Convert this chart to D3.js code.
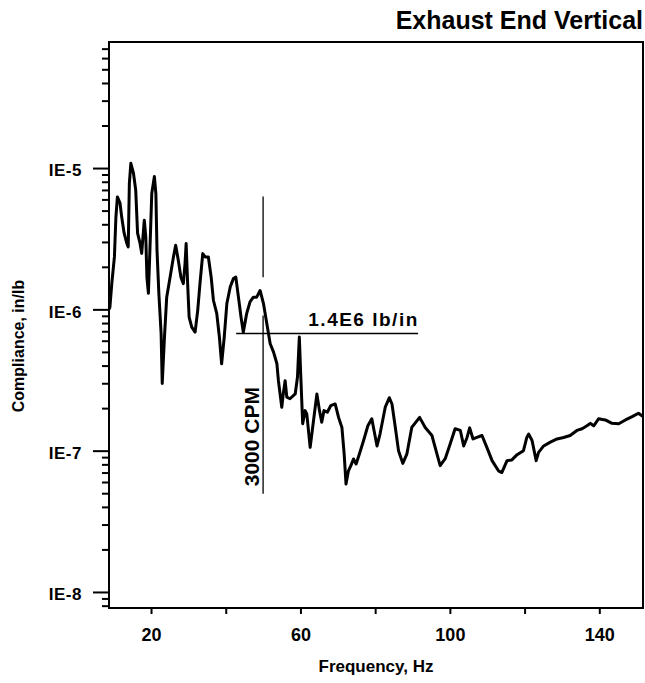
<!DOCTYPE html>
<html>
<head>
<meta charset="utf-8">
<script src="https://cdn.jsdelivr.net/npm/d3@7"></script>
<style>
    body { margin: 0; background: #fff; }
    text { font-family: "Liberation Sans", Arial, Helvetica, sans-serif; font-weight: bold; fill: #000; }
</style>
</head>
<body>
<div id="chart"></div>
<script>

// compliance spectrum: [frequency Hz, compliance in/lb]
var spectrum = [
    [8.8,1.0e-6],[9.0,1.04e-6],[9.5,1.53e-6],[10.2,2.35e-6],[10.6,4.5e-6],[11.0,6.25e-6],[11.7,5.65e-6],[12.15,4.5e-6],
    [12.8,3.46e-6],[13.5,2.94e-6],[13.9,2.77e-6],[14.2,7.8e-6],[14.6,1.08e-5],[15.3,9.2e-6],[15.9,7.0e-6],[16.4,3.46e-6],
    [17.05,2.94e-6],[17.5,2.49e-6],[18.2,4.28e-6],[18.6,3.26e-6],[18.9,1.69e-6],[19.3,1.30e-6],[19.7,2.62e-6],[20.2,6.6e-6],
    [20.9,8.7e-6],[21.3,6.6e-6],[21.6,2.62e-6],[22.1,1.29e-6],[22.7,6.76e-7],[23.0,2.99e-7],[23.6,6.37e-7],[24.2,1.22e-6],
    [25.1,1.69e-6],[26.0,2.35e-6],[26.6,2.84e-6],[27.3,2.23e-6],[28.0,1.69e-6],[28.65,1.52e-6],[29.1,2.11e-6],[29.4,2.92e-6],
    [29.8,1.52e-6],[30.2,8.8e-7],[30.9,7.48e-7],[31.8,6.9e-7],[32.5,9.84e-7],[33.1,1.52e-6],[33.85,2.48e-6],[34.5,2.35e-6],
    [35.35,2.35e-6],[36.1,1.69e-6],[36.7,1.16e-6],[37.6,9.33e-7],[38.3,6.37e-7],[38.9,4.12e-7],[39.6,6.37e-7],[40.3,1.10e-6],
    [41.2,1.44e-6],[42.05,1.65e-6],[42.7,1.69e-6],[43.4,1.22e-6],[44.1,8.8e-7],[44.7,6.9e-7],[45.6,9.33e-7],[46.5,1.13e-6],
    [47.4,1.22e-6],[48.3,1.22e-6],[49.2,1.36e-6],[50.1,1.10e-6],[51.0,7.92e-7],[51.9,5.71e-7],[52.8,4.98e-7],[53.7,4.12e-7],
    [54.1,3.13e-7],[55.0,2.03e-7],[55.4,2.52e-7],[55.9,3.13e-7],[56.35,2.39e-7],[57.2,2.33e-7],[58.6,2.52e-7],[59.2,3.31e-7],
    [59.7,6.37e-7],[60.1,3.31e-7],[60.6,1.55e-7],[61.25,1.92e-7],[61.7,1.82e-7],[62.6,1.055e-7],[63.5,1.63e-7],[64.4,2.52e-7],
    [65.1,1.92e-7],[65.7,1.59e-7],[66.3,1.92e-7],[67.2,1.87e-7],[68.1,2.08e-7],[69.3,2.14e-7],[70.2,1.72e-7],[71.1,1.46e-7],
    [71.7,9.5e-8],[72.2,5.8e-8],[72.85,7.2e-8],[73.5,7.83e-8],[74.2,8.73e-8],[74.9,8.05e-8],[75.8,9.5e-8],[76.9,1.18e-7],
    [78.05,1.50e-7],[79.1,1.68e-7],[79.7,1.39e-7],[80.5,1.08e-7],[81.3,1.31e-7],[82.7,2.03e-7],[83.8,2.37e-7],[84.5,2.14e-7],
    [85.4,1.46e-7],[86.25,1.0e-7],[87.4,8.13e-8],[88.5,9.5e-8],[89.8,1.46e-7],[91.9,1.72e-7],[93.4,1.46e-7],[95.2,1.28e-7],
    [96.3,1.0e-7],[97.4,7.83e-8],[98.75,8.77e-8],[100.1,1.12e-7],[101.4,1.43e-7],[102.8,1.39e-7],[103.7,1.08e-7],[104.6,1.24e-7],
    [105.3,1.45e-7],[106.2,1.21e-7],[107.25,1.24e-7],[108.6,1.28e-7],[109.9,1.055e-7],[111.3,8.5e-8],[113.0,7.2e-8],[113.9,7.0e-8],
    [115.3,8.5e-8],[116.6,8.6e-8],[118.0,9.37e-8],[119.7,1.0e-7],[120.6,1.24e-7],[121.1,1.31e-7],[122.0,1.18e-7],[123.1,8.5e-8],
    [123.75,9.73e-8],[125.1,1.08e-7],[126.9,1.15e-7],[128.7,1.21e-7],[130.45,1.24e-7],[132.2,1.28e-7],[134.0,1.39e-7],[135.4,1.43e-7],
    [136.7,1.50e-7],[137.6,1.56e-7],[138.5,1.50e-7],[139.8,1.68e-7],[141.6,1.65e-7],[143.4,1.56e-7],[145.2,1.55e-7],[147.0,1.65e-7],
    [148.8,1.74e-7],[150.5,1.84e-7],[151.7,1.74e-7]
];

// axes
var freqDomain = [8.75, 151.7];
var complianceDomain = [7.7e-9, 7.8e-5];
var xTicks = [20, 40, 60, 80, 100, 120, 140];
var xTickLabels = [20, 60, 100, 140];
var yMajorTicks = [1e-5, 1e-6, 1e-7, 1e-8];
var yMajorLabels = ["IE-5", "IE-6", "IE-7", "IE-8"];

// annotations
var markerFreq = 50;                        // 3000 CPM
var markerSpans = [[6.3e-6, 1.69e-6], [9.06e-7, 4.95e-8]];
var stiffnessLine = { value: 6.75e-7, from: 42.8, to: 91.5 };

var width = 645, height = 683;
var margin = { top: 42, right: 2, bottom: 75, left: 109 };

var svg = d3.select("#chart").append("svg")
    .attr("width", width)
    .attr("height", height);

var xScale = d3.scaleLinear().domain(freqDomain).range([margin.left, width - margin.right]);
var yScale = d3.scaleLog().domain(complianceDomain).range([height - margin.bottom, margin.top]);

// minor ticks 2..9 in every decade that fits the domain
var yMinorTicks = [];
for (var e = -9; e <= -5; e++) {
    for (var m = 2; m <= 9; m++) {
        var v = m * Math.pow(10, e);
        if (v >= complianceDomain[0] && v <= complianceDomain[1]) yMinorTicks.push(v);
    }
}

/*************** y axis ***************/
var yMinor = svg.append("g")
    .attr("transform", "translate(" + margin.left + ",0)")
    .call(d3.axisLeft(yScale).tickValues(yMinorTicks).tickSize(7).tickFormat(""));

var yMajor = svg.append("g")
    .attr("transform", "translate(" + margin.left + ",0)")
    .call(d3.axisLeft(yScale).tickValues(yMajorTicks).tickSize(16).tickPadding(11)
        .tickFormat(function (d, i) { return yMajorLabels[i]; }));

yMajor.selectAll("text")
    .style("font-size", "17px")
    .style("letter-spacing", "0.5px")
    .attr("dy", "0.45em");

/*************** x axis ***************/
var xAxis = svg.append("g")
    .attr("transform", "translate(0," + (height - margin.bottom) + ")")
    .call(d3.axisBottom(xScale).tickValues(xTicks).tickSize(6).tickPadding(14)
        .tickFormat(function (d) { return xTickLabels.indexOf(d) >= 0 ? d : ""; }));

xAxis.selectAll("text").style("font-size", "18px");

svg.selectAll(".domain").remove();
svg.selectAll(".tick line").attr("stroke", "#000").attr("stroke-width", 2);

// frame
svg.append("rect")
    .attr("x", margin.left)
    .attr("y", margin.top)
    .attr("width", width - margin.left - margin.right)
    .attr("height", height - margin.top - margin.bottom)
    .attr("fill", "none")
    .attr("stroke", "#000")
    .attr("stroke-width", 2);

/*************** annotations ***************/
markerSpans.forEach(function (s) {
    svg.append("line")
        .attr("x1", xScale(markerFreq)).attr("x2", xScale(markerFreq))
        .attr("y1", yScale(s[0])).attr("y2", yScale(s[1]))
        .attr("stroke", "#000").attr("stroke-width", 1.3);
});

svg.append("line")
    .attr("x1", xScale(stiffnessLine.from)).attr("x2", xScale(stiffnessLine.to))
    .attr("y1", yScale(stiffnessLine.value)).attr("y2", yScale(stiffnessLine.value))
    .attr("stroke", "#000").attr("stroke-width", 1.3);

svg.append("text")
    .attr("x", xScale(62.1))
    .attr("y", yScale(stiffnessLine.value) - 7)
    .style("font-size", "19px")
    .style("letter-spacing", "1.5px")
    .text("1.4E6 lb/in");

svg.append("text")
    .attr("transform", "translate(" + (xScale(markerFreq) - 4) + "," + yScale(5.6e-8) + ")rotate(-90)")
    .style("font-size", "21px")
    .text("3000 CPM");

/*************** curve ***************/
svg.append("clipPath").attr("id", "plotclip")
    .append("rect")
    .attr("x", margin.left).attr("y", margin.top)
    .attr("width", width - margin.left - margin.right)
    .attr("height", height - margin.top - margin.bottom);

var line = d3.line()
    .x(function (d) { return xScale(d[0]); })
    .y(function (d) { return yScale(d[1]); });

svg.append("path")
    .datum(spectrum)
    .attr("clip-path", "url(#plotclip)")
    .attr("d", line)
    .attr("fill", "none")
    .attr("stroke", "#000")
    .attr("stroke-width", 3)
    .attr("stroke-linejoin", "round");

/*************** titles ***************/
svg.append("text")
    .attr("x", 643)
    .attr("y", 29)
    .attr("text-anchor", "end")
    .style("font-size", "25px")
    .text("Exhaust End Vertical");

svg.append("text")
    .attr("x", (margin.left + width - margin.right) / 2)
    .attr("y", 672)
    .attr("text-anchor", "middle")
    .style("font-size", "17px")
    .text("Frequency, Hz");

svg.append("text")
    .attr("transform", "translate(24," + 346 + ")rotate(-90)")
    .attr("text-anchor", "middle")
    .style("font-size", "16px")
    .text("Compliance, in/lb");

</script>
</body>
</html>
